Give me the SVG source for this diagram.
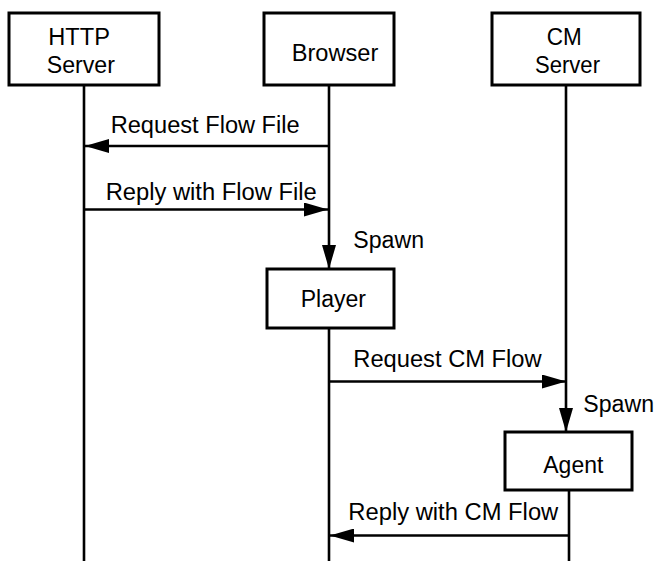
<svg xmlns="http://www.w3.org/2000/svg" width="656" height="561" viewBox="0 0 656 561">
<style>
.box{fill:#fff;stroke:#000;stroke-width:3}
.ln{stroke:#000;stroke-width:2.6;fill:none}
text{font-family:"Liberation Sans",Arial,sans-serif;font-size:23px;fill:#000}
</style>
<defs>
<marker id="ah" markerUnits="userSpaceOnUse" markerWidth="24" markerHeight="14" refX="24" refY="7" orient="auto">
<path d="M0,0 L24,7 L0,14 Z" fill="#000"/>
</marker>
</defs>
<g id="connectors">
<line class="ln" x1="84" y1="85" x2="84" y2="561"/>
<line class="ln" x1="329" y1="85" x2="329" y2="269" marker-end="url(#ah)"/>
<line class="ln" x1="329" y1="328" x2="329" y2="561"/>
<line class="ln" x1="566" y1="85" x2="566" y2="432" marker-end="url(#ah)"/>
<line class="ln" x1="569" y1="490" x2="569" y2="561"/>
<line class="ln" x1="329" y1="146" x2="85" y2="146" marker-end="url(#ah)"/>
<line class="ln" x1="84" y1="209.5" x2="328" y2="209.5" marker-end="url(#ah)"/>
<line class="ln" x1="329" y1="381.5" x2="566" y2="381.5" marker-end="url(#ah)"/>
<line class="ln" x1="569" y1="535.5" x2="330" y2="535.5" marker-end="url(#ah)"/>
<text x="110.7" y="133" textLength="189" lengthAdjust="spacingAndGlyphs">Request Flow File</text>
<text x="105.7" y="200" textLength="211" lengthAdjust="spacingAndGlyphs">Reply with Flow File</text>
<text x="353.3" y="248" textLength="70.7" lengthAdjust="spacingAndGlyphs">Spawn</text>
<text x="353.3" y="367" textLength="188.3" lengthAdjust="spacingAndGlyphs">Request CM Flow</text>
<text x="583.3" y="412" textLength="70.7" lengthAdjust="spacingAndGlyphs">Spawn</text>
<text x="348.3" y="520" textLength="210" lengthAdjust="spacingAndGlyphs">Reply with CM Flow</text>
</g>
<g id="http-server">
<rect class="box" x="9" y="13" width="150" height="72"/>
<text x="48.3" y="45" textLength="61.7" lengthAdjust="spacingAndGlyphs">HTTP</text>
<text x="46.7" y="73.3" textLength="68.3" lengthAdjust="spacingAndGlyphs">Server</text>
</g>
<g id="browser">
<rect class="box" x="264" y="13" width="130" height="72"/>
<text x="291.7" y="60.5" textLength="86.6" lengthAdjust="spacingAndGlyphs">Browser</text>
</g>
<g id="cm-server">
<rect class="box" x="492" y="13" width="148" height="72"/>
<text x="546.7" y="45" textLength="35" lengthAdjust="spacingAndGlyphs">CM</text>
<text x="535" y="73.3" textLength="65" lengthAdjust="spacingAndGlyphs">Server</text>
</g>
<g id="player">
<rect class="box" x="267" y="269" width="127" height="59"/>
<text x="300.7" y="306.7" textLength="65.3" lengthAdjust="spacingAndGlyphs">Player</text>
</g>
<g id="agent">
<rect class="box" x="505" y="432" width="127" height="58"/>
<text x="543.3" y="473.3" textLength="60" lengthAdjust="spacingAndGlyphs">Agent</text>
</g>
</svg>
